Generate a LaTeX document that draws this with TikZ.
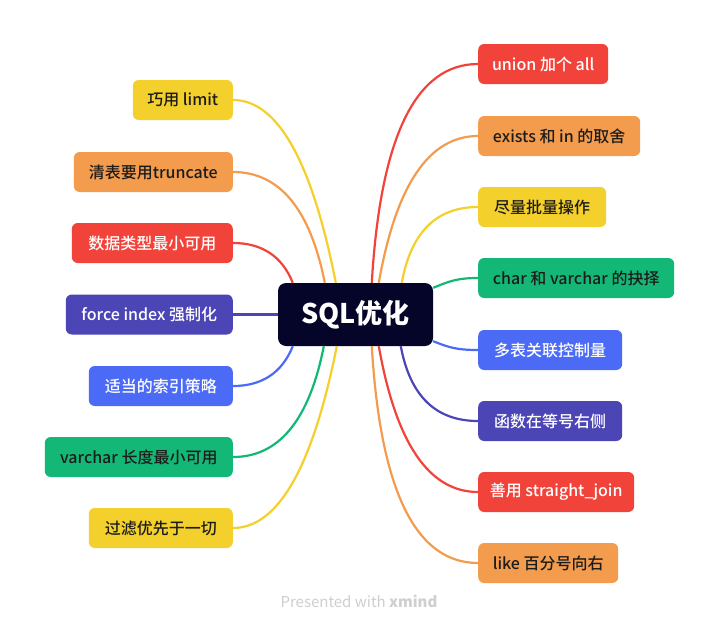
\documentclass[tikz,border=0pt]{standalone}
\usepackage{fontspec}
\setmainfont{Noto Sans CJK SC}
\newfontfamily\nf{Noto Sans CJK SC Medium}
\newfontfamily\cf{Noto Sans CJK SC}
\usetikzlibrary{calc}
\definecolor{cred}{HTML}{F2433A}
\definecolor{corg}{HTML}{F39C4D}
\definecolor{cyel}{HTML}{F3D02C}
\definecolor{cgrn}{HTML}{13B877}
\definecolor{cblu}{HTML}{4B6BF7}
\definecolor{cind}{HTML}{4B45B5}
\definecolor{cnavy}{HTML}{05052A}
\definecolor{dk}{HTML}{1C1C1C}
\definecolor{foot}{HTML}{CFCFCF}
% #1 colour, #2 start, #3 end, #4 ratio of quadratic control point
\newcommand\cv[4]{%
  \coordinate (qc) at ($(#2|-#3)!#4!(#3)$);
  \draw[conn,#1] (#2) .. controls ($(#2)!0.6667!(qc)$) and ($(#3)!0.6667!(qc)$) .. (#3);}
\begin{document}
\begin{tikzpicture}[x=1pt,y=-1pt,
  box/.style={rounded corners=6pt, minimum height=40pt, inner xsep=0pt, inner ysep=0pt, font=\nf\fontsize{16}{19}\selectfont},
  lbox/.style={box, anchor=east},
  rbox/.style={box, anchor=west},
  dkt/.style={text=dk},
  wht/.style={text=white},
  conn/.style={line width=2.2pt}]
\useasboundingbox[fill=white] (0,0) rectangle (720,629);
% center
\node[fill=cnavy, text=white, rounded corners=8pt, minimum width=155pt, minimum height=63pt, inner sep=0pt, font=\cf\bfseries\fontsize{27}{30}\selectfont] (c) at (355.5,314.5) {SQL优化};
% left
\node[lbox, fill=cyel, dkt, minimum width=100pt] (l1) at (233,100) {巧用 limit};
\node[lbox, fill=corg, dkt, minimum width=159pt] (l2) at (233,172) {清表要用truncate};
\node[lbox, fill=cred, wht, minimum width=161pt] (l3) at (233,243) {数据类型最小可用};
\node[lbox, fill=cind, wht, minimum width=167pt] (l4) at (233,314.5) {force index 强制化};
\node[lbox, fill=cblu, wht, minimum width=144pt] (l5) at (233,386) {适当的索引策略};
\node[lbox, fill=cgrn, dkt, minimum width=188pt] (l6) at (233,457) {varchar 长度最小可用};
\node[lbox, fill=cyel, dkt, minimum width=144pt] (l7) at (233,528) {过滤优先于一切};
% right
\node[rbox, fill=cred, wht, minimum width=130pt] (r1) at (478,64) {union 加个 all};
\node[rbox, fill=corg, dkt, minimum width=162pt] (r2) at (478,136) {exists 和 in 的取舍};
\node[rbox, fill=cyel, dkt, minimum width=128pt] (r3) at (478,207) {尽量批量操作};
\node[rbox, fill=cgrn, dkt, minimum width=196pt] (r4) at (478,278) {char 和 varchar 的抉择};
\node[rbox, fill=cblu, wht, minimum width=144pt] (r5) at (478,350) {多表关联控制量};
\node[rbox, fill=cind, wht, minimum width=144pt] (r6) at (478,421) {函数在等号右侧};
\node[rbox, fill=cred, wht, minimum width=156pt] (r7) at (478,492) {善用 straight\_join};
\node[rbox, fill=corg, dkt, minimum width=140pt] (r8) at (478,563) {like 百分号向右};
% start points
\coordinate (t1) at ([xshift=58pt]c.north west);
\coordinate (t2) at ([xshift=47pt]c.north west);
\coordinate (t3) at ([xshift=15pt]c.north west);
\coordinate (b5) at ([xshift=15pt]c.south west);
\coordinate (b6) at ([xshift=46pt]c.south west);
\coordinate (b7) at ([xshift=59pt]c.south west);
\coordinate (t8) at ([xshift=94pt]c.north west);
\coordinate (t9) at ([xshift=101pt]c.north west);
\coordinate (t10) at ([xshift=124pt]c.north west);
\coordinate (b13) at ([xshift=123pt]c.south west);
\coordinate (b14) at ([xshift=101pt]c.south west);
\coordinate (b15) at ([xshift=94pt]c.south west);
\coordinate (g4) at ([yshift=-5pt]c.north east);
\coordinate (g5) at ([yshift=5pt]c.south east);
% connectors
\cv{cyel}{t1}{l1.east}{0.35}
\cv{corg}{t2}{l2.east}{0.24}
\cv{cred}{t3}{l3.east}{0.27}
\draw[conn,cind] (c.west) -- (l4.east);
\cv{cblu}{b5}{l5.east}{0.27}
\cv{cgrn}{b6}{l6.east}{0.24}
\cv{cyel}{b7}{l7.east}{0.35}
\cv{cred}{t8}{r1.west}{0.12}
\cv{corg}{t9}{r2.west}{0.26}
\cv{cyel}{t10}{r3.west}{0.18}
\draw[conn,cgrn] (g4) .. controls +(15,-6) and +(-22,0) .. (r4.west);
\draw[conn,cblu] (g5) .. controls +(15,6) and +(-22,0) .. (r5.west);
\cv{cind}{b13}{r6.west}{0.18}
\cv{cred}{b14}{r7.west}{0.26}
\cv{corg}{b15}{r8.west}{0.12}
% footer
\node[text=foot, font=\cf\fontsize{15}{18}\selectfont] (ft) at (359,601) {Presented with {\bfseries xmind}};
\end{tikzpicture}
\end{document}
